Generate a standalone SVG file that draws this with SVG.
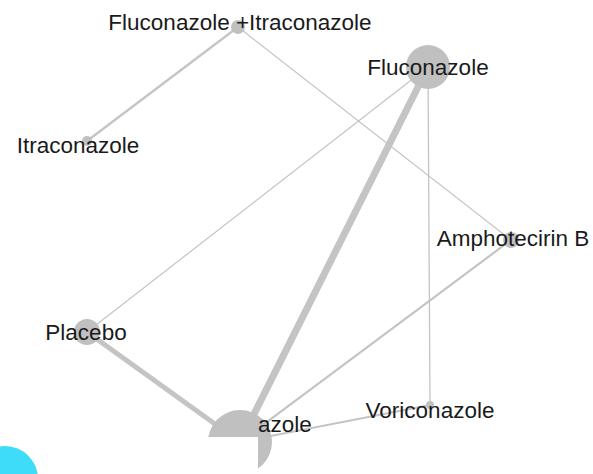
<svg xmlns="http://www.w3.org/2000/svg" width="593" height="474" viewBox="0 0 593 474">
<style>
.e{stroke:#c4c4c4;stroke-linecap:round;fill:none}
.n{fill:#c0c0c0}
.t{font-family:"Liberation Sans",Arial,sans-serif;font-size:22.5px;fill:#1a1a1a;text-anchor:middle}
</style>
<rect width="593" height="474" fill="#ffffff"/>
<g id="connectors">
<line class="e" x1="238" y1="27" x2="87" y2="141" stroke-width="2.2"/>
<line class="e" x1="238" y1="27" x2="511" y2="240" stroke-width="1.2"/>
<line class="e" x1="428" y1="67" x2="87" y2="332" stroke-width="1.2"/>
<line class="e" x1="428" y1="67" x2="240" y2="442" stroke-width="7"/>
<line class="e" x1="428" y1="67" x2="430" y2="405" stroke-width="1.3"/>
<line class="e" x1="511" y1="240" x2="240" y2="442" stroke-width="2.2"/>
<line class="e" x1="87" y1="332" x2="240" y2="442" stroke-width="5"/>
<line class="e" x1="430" y1="405" x2="240" y2="442" stroke-width="1.8"/>
</g>
<g id="node-fluconazole-itraconazole">
<circle class="n" cx="238" cy="27" r="7"/>
<text class="t" x="240" y="30">Fluconazole +Itraconazole</text>
</g>
<g id="node-fluconazole">
<circle class="n" cx="428" cy="67" r="22"/>
<text class="t" x="428" y="75">Fluconazole</text>
</g>
<g id="node-itraconazole">
<circle class="n" cx="87" cy="141" r="5"/>
<text class="t" x="78" y="153">Itraconazole</text>
</g>
<g id="node-amphotecirin">
<circle class="n" cx="511" cy="240" r="8"/>
<text class="t" x="513" y="246">Amphotecirin B</text>
</g>
<g id="node-placebo">
<circle class="n" cx="87" cy="332" r="13"/>
<text class="t" x="86" y="340">Placebo</text>
</g>
<g id="node-voriconazole">
<circle class="n" cx="430" cy="405" r="4"/>
<text class="t" x="430" y="418">Voriconazole</text>
</g>
<g id="node-bottom">
<circle class="n" cx="240" cy="442" r="32"/>
<text class="t" x="285" y="432">azole</text>
</g>
<rect x="0" y="437" width="258" height="37" fill="#ffffff"/>
<circle cx="5" cy="479" r="33" fill="#3fdcf7"/>
</svg>
